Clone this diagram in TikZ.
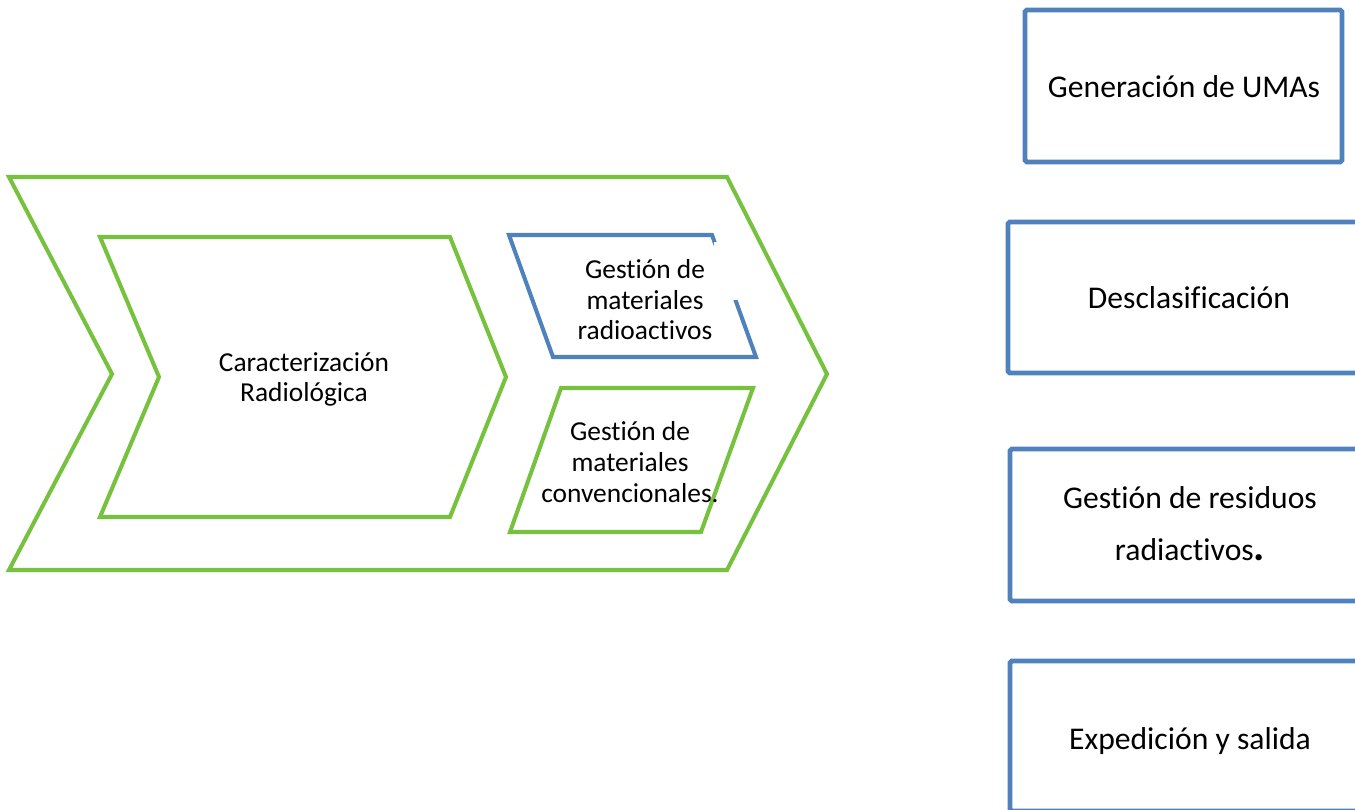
\documentclass[tikz,border=0pt]{standalone}
\usepackage{fontspec}
\setmainfont{Carlito}[Ligatures=NoCommon]
\definecolor{grn}{RGB}{118,193,62}
\definecolor{blu}{RGB}{79,129,189}

\begin{document}
\begin{tikzpicture}[x=0.02cm,y=-0.02cm,
	small/.style={align=center,anchor=base,font=\fontsize{15.6}{17.5}\selectfont},
	big/.style={align=center,anchor=base,font=\fontsize{18}{29.5}\selectfont},
	bluebox/.style={blu,line width=2.8pt,rounded corners=1pt}]
	\useasboundingbox (0,0) rectangle (1355,810);
	\clip (0,0) rectangle (1355,810);
\draw[grn,line width=2.3pt] (9,177) -- (727,177) -- (827,374) -- (727,570) -- (9,570) -- (112,374) -- cycle;
\draw[grn,line width=2.3pt] (100,237) -- (450,237) -- (506,377) -- (450,517) -- (100,517) -- (159,377) -- cycle;
\draw[blu,line width=2.3pt] (509,235) -- (712,235) -- (756,357) -- (553,357) -- cycle;
\fill[white] (714,242) rectangle (740,300);
\draw[grn,line width=2.3pt] (561,388) -- (753,388) -- (701,532) -- (510,532) -- cycle;
\node[small] (CR) at (304,402) {Caracterización\\Radiológica};
\node[small] (GMR) at (645,340) {Gestión de\\materiales\\radioactivos};
\node[small] (GMC) at (630,502) {Gestión de\\materiales\\convencionales.};
\draw[bluebox] (1025,10) rectangle (1342,162);
\draw[bluebox] (1008,222) rectangle (1380,373);
\draw[bluebox] (1010,449) rectangle (1380,601);
\draw[bluebox] (1010,661) rectangle (1380,811);
\node[big] (UMA) at (1184,98) {Generación de UMAs};
\node[big] (DES) at (1189,309) {Desclasificación};
\node[big] (GRR) at (1190,560) {Gestión de residuos\\radiactivos{\fontsize{24}{24}\selectfont\textbf{.}}};
\node[big] (EXP) at (1190,749) {Expedición y salida};

\end{tikzpicture}
\end{document}
